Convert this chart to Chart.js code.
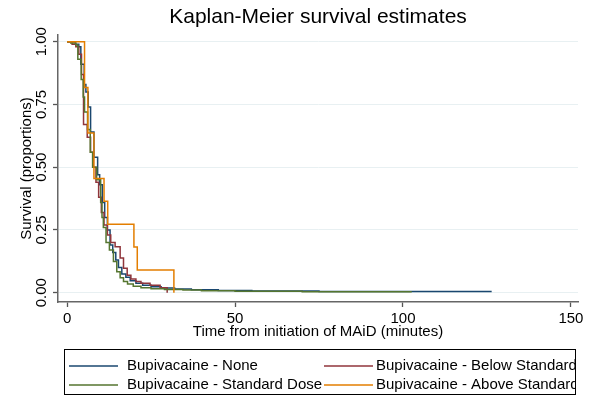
<!DOCTYPE html>
<html>
<head>
<meta charset="utf-8">
<script src="https://cdn.jsdelivr.net/npm/chart.js@4"></script>
<style>
  html, body { margin: 0; padding: 0; background: #fff; }
  #wrap { width: 595px; height: 400px; }
</style>
</head>
<body>
<div id="wrap"><canvas id="myChart" width="595" height="400"></canvas></div>
<script>
// survival steps (time in minutes, survival after the drop)
var noneTime = [0, 2.5, 3.5, 4.1, 5.1, 5.6, 6.3, 7.0, 8.0, 9.1, 9.7, 10.5, 11.2, 12.0, 12.8, 13.6, 14.5, 15.3, 16.3, 17.5, 18.8, 20.5, 22.5, 25.0, 28.0, 32.0, 37.0, 45.0, 55.0, 75.0, 126.4];
var noneSurv = [1.00, 0.99, 0.98, 0.91, 0.83, 0.80, 0.74, 0.64, 0.54, 0.47, 0.43, 0.36, 0.30, 0.25, 0.19, 0.16, 0.13, 0.10, 0.075, 0.062, 0.048, 0.038, 0.030, 0.024, 0.019, 0.015, 0.012, 0.009, 0.007, 0.005, 0.005];

var belowTime = [0, 1.5, 2.6, 3.5, 4.3, 4.9, 6.0, 7.0, 7.8, 8.6, 9.4, 10.2, 11.0, 12.0, 13.0, 14.3, 15.8, 16.8, 17.9, 19.0, 20.5, 22.0, 24.7, 27.7, 29.8];
var belowSurv = [1.00, 0.99, 0.98, 0.95, 0.87, 0.67, 0.62, 0.56, 0.50, 0.44, 0.38, 0.32, 0.27, 0.23, 0.20, 0.183, 0.138, 0.097, 0.070, 0.055, 0.045, 0.038, 0.030, 0.020, 0.000];

var stdTime = [0, 1.1, 2.6, 3.2, 4.2, 4.8, 5.2, 6.1, 6.9, 7.6, 8.8, 10.0, 10.4, 10.8, 11.6, 12.6, 13.8, 14.8, 15.8, 16.8, 18.0, 19.7, 22.0, 25.0, 29.0, 34.5, 40.0, 50.0, 70.0, 102.6];
var stdSurv = [1.00, 0.995, 0.987, 0.93, 0.85, 0.78, 0.72, 0.65, 0.56, 0.50, 0.45, 0.36, 0.30, 0.26, 0.20, 0.17, 0.124, 0.084, 0.060, 0.045, 0.035, 0.026, 0.020, 0.016, 0.013, 0.011, 0.008, 0.006, 0.004, 0.004];

var aboveTime = [0, 5.2, 6.2, 8.0, 11.0, 12.1, 19.9, 20.9, 31.8];
var aboveSurv = [1.0, 0.818, 0.636, 0.455, 0.364, 0.273, 0.182, 0.091, 0.0];

var xTicks = [0, 50, 100, 150];
var yTicks = [0, 0.25, 0.5, 0.75, 1];

var fontFamily = "'Liberation Sans', Arial, Helvetica, sans-serif";

function toPoints(times, surv) {
    return times.map(function (t, i) { return { x: t, y: surv[i] }; });
}

function serie(label, times, surv, color, order) {
    return {
        label: label,
        data: toPoints(times, surv),
        borderColor: color,
        backgroundColor: color,
        borderWidth: 1.5,
        pointRadius: 0,
        stepped: 'before',
        fill: false,
        order: order
    };
}

// legend drawn as a boxed 2x2 grid like the Stata one
var legendBox = {
    id: 'legendBox',
    afterDraw: function (chart) {
        var ctx = chart.ctx;
        var ds = chart.data.datasets;
        var left = 64, right = 575, top = 349, bottom = 394;
        var cells = [
            { d: ds[0], x: 69, tx: 127, y: 366 },
            { d: ds[1], x: 324, tx: 376, y: 366 },
            { d: ds[2], x: 69, tx: 127, y: 385 },
            { d: ds[3], x: 324, tx: 376, y: 385 }
        ];
        ctx.save();
        ctx.strokeStyle = '#000';
        ctx.lineWidth = 1;
        ctx.strokeRect(left + 0.5, top + 0.5, right - left, bottom - top);
        ctx.beginPath();
        ctx.rect(left, top, right - left, bottom - top);
        ctx.clip();
        ctx.font = '15px ' + fontFamily;
        ctx.textBaseline = 'middle';
        ctx.textAlign = 'left';
        cells.forEach(function (c) {
            ctx.strokeStyle = c.d.borderColor;
            ctx.lineWidth = 1.5;
            ctx.beginPath();
            ctx.moveTo(c.x, c.y);
            ctx.lineTo(c.x + 49, c.y);
            ctx.stroke();
            ctx.fillStyle = '#000';
            ctx.fillText(c.d.label, c.tx, c.y);
        });
        ctx.restore();
    }
};

var ctx = document.getElementById('myChart').getContext('2d');
var chart = new Chart(ctx, {
    type: 'line',
    data: {
        datasets: [
            serie('Bupivacaine - None', noneTime, noneSurv, 'rgb(26, 71, 111)', 3),
            serie('Bupivacaine - Below Standard', belowTime, belowSurv, 'rgb(144, 53, 59)', 2),
            serie('Bupivacaine - Standard Dose', stdTime, stdSurv, 'rgb(85, 117, 47)', 1),
            serie('Bupivacaine - Above Standard', aboveTime, aboveSurv, 'rgb(227, 126, 0)', 0)
        ]
    },
    options: {
        responsive: false,
        animation: false,
        layout: { padding: { left: 0, right: 17, top: 0, bottom: 58 } },
        plugins: {
            legend: { display: false },
            tooltip: { enabled: false },
            title: {
                display: true,
                text: 'Kaplan-Meier survival estimates',
                fullSize: false,
                color: '#000',
                font: { family: fontFamily, size: 21, weight: 'normal' },
                padding: { top: 4.5, bottom: 5.3 }
            }
        },
        scales: {
            x: {
                type: 'linear',
                min: -2.7,
                max: 152.1,
                afterBuildTicks: function (scale) {
                    scale.ticks = xTicks.map(function (v) { return { value: v }; });
                },
                afterFit: function (scale) { scale.height = 40; },
                ticks: {
                    color: '#000',
                    padding: 3,
                    maxRotation: 0,
                    font: { family: fontFamily, size: 15 }
                },
                grid: {
                    drawOnChartArea: false,
                    drawTicks: true,
                    tickLength: 5,
                    tickColor: '#555',
                    tickWidth: 1.3
                },
                border: { color: '#666', width: 1.5 },
                title: {
                    display: true,
                    text: 'Time from initiation of MAiD (minutes)',
                    color: '#000',
                    font: { family: fontFamily, size: 15 },
                    padding: { top: 0, bottom: 1 }
                }
            },
            y: {
                type: 'linear',
                min: -0.037,
                max: 1.027,
                afterBuildTicks: function (scale) {
                    scale.ticks = yTicks.map(function (v) { return { value: v }; });
                },
                afterFit: function (scale) { scale.width = 58; },
                ticks: {
                    color: '#000',
                    padding: -3,
                    minRotation: 90,
                    maxRotation: 90,
                    crossAlign: 'center',
                    font: { family: fontFamily, size: 15 },
                    callback: function (v) { return Number(v).toFixed(2); }
                },
                grid: {
                    color: '#e8f0f2',
                    lineWidth: 1,
                    drawTicks: true,
                    tickLength: 5,
                    tickColor: '#555',
                    tickWidth: 1.3
                },
                border: { color: '#666', width: 1.5 },
                title: {
                    display: true,
                    text: 'Survival (proportions)',
                    color: '#000',
                    font: { family: fontFamily, size: 15 },
                    padding: { top: 18, bottom: 0 }
                }
            }
        }
    },
    plugins: [legendBox]
});
</script>
</body>
</html>
